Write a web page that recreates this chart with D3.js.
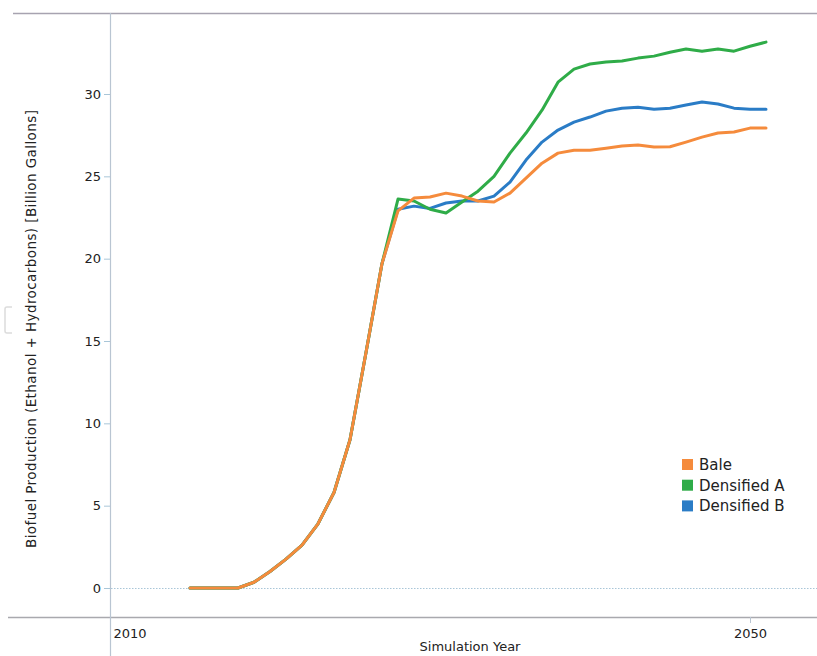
<!DOCTYPE html>
<html>
<head>
<meta charset="utf-8">
<script src="https://cdn.jsdelivr.net/npm/d3@7"></script>
<style>
  html, body { margin: 0; padding: 0; background: #fff; }
  svg { display: block; }
  text { font-family: "DejaVu Sans", Verdana, sans-serif; }
</style>
</head>
<body>
<svg id="chart" width="817" height="656"></svg>
<script>
// Simulation years (one point per year)
const years = [2015, 2016, 2017, 2018, 2019, 2020, 2021, 2022, 2023, 2024,
  2025, 2026, 2027, 2028, 2029, 2030, 2031, 2032, 2033, 2034, 2035, 2036,
  2037, 2038, 2039, 2040, 2041, 2042, 2043, 2044, 2045, 2046, 2047, 2048,
  2049, 2050, 2051];

// Biofuel production, billion gallons
const bale = [0, 0, 0, 0, 0.35, 1.0, 1.75, 2.6, 3.9, 5.8, 9.0, 14.3, 19.7,
  22.9, 23.68, 23.74, 23.98, 23.8, 23.5, 23.44, 23.98, 24.89, 25.8, 26.41,
  26.59, 26.59, 26.71, 26.84, 26.9, 26.78, 26.8, 27.08, 27.38, 27.63, 27.69,
  27.93, 27.93];
const densifiedA = [0, 0, 0, 0, 0.35, 1.0, 1.75, 2.6, 3.9, 5.8, 9.0, 14.3, 19.7,
  23.62, 23.5, 23.0, 22.77, 23.44, 24.1, 25.0, 26.41, 27.63, 29.02, 30.72,
  31.51, 31.82, 31.94, 32.0, 32.18, 32.3, 32.54, 32.73, 32.6, 32.73, 32.6,
  32.9, 33.15];
const densifiedB = [0, 0, 0, 0, 0.35, 1.0, 1.75, 2.6, 3.9, 5.8, 9.0, 14.3, 19.7,
  23.0, 23.19, 23.05, 23.38, 23.5, 23.5, 23.8, 24.65, 25.99, 27.08, 27.81,
  28.29, 28.6, 28.96, 29.14, 29.2, 29.08, 29.14, 29.33, 29.51, 29.39, 29.14,
  29.08, 29.08];

const seriesNames = ["Bale", "Densified A", "Densified B"];
const seriesColors = ["#f58b3c", "#2fac48", "#2a7cc6"];
const xTicks = [2010, 2050];
const yTicks = [0, 5, 10, 15, 20, 25, 30];

const series = [
  { name: seriesNames[0], values: bale, color: seriesColors[0] },
  { name: seriesNames[1], values: densifiedA, color: seriesColors[1] },
  { name: seriesNames[2], values: densifiedB, color: seriesColors[2] }
];

const svg = d3.select("#chart");
const W = 817, H = 656;

const x = d3.scaleLinear().domain([2010, 2050]).range([110, 750]);
const y = d3.scaleLinear().domain([0, 30]).range([588, 94]);

// frame lines
svg.append("line").attr("x1", 13).attr("x2", W).attr("y1", 13.5).attr("y2", 13.5)
  .attr("stroke", "#a7a3b0").attr("stroke-width", 1.3);
svg.append("line").attr("x1", 8).attr("x2", W).attr("y1", 617.5).attr("y2", 617.5)
  .attr("stroke", "#a9a9ae").attr("stroke-width", 1.3);
svg.append("line").attr("x1", 110.5).attr("x2", 110.5).attr("y1", 13).attr("y2", H)
  .attr("stroke", "#b9c5d2").attr("stroke-width", 1.2);

// small bracket mark at the left edge
svg.append("path").attr("d", "M12,307 L7,307 Q5,307 5,309 L5,331 Q5,333 7,333 L12,333")
  .attr("fill", "none").attr("stroke", "#dcdcdc").attr("stroke-width", 1.5);

// zero baseline
svg.append("line").attr("x1", 111).attr("x2", W).attr("y1", y(0) + 0.5).attr("y2", y(0) + 0.5)
  .attr("stroke", "#a9c6d8").attr("stroke-width", 1.2).attr("stroke-dasharray", "1.5,1.5");

// y axis ticks and labels
const yAxis = svg.append("g").attr("transform", "translate(110,0)")
  .call(d3.axisLeft(y).tickValues(yTicks).tickSize(6).tickPadding(3).tickFormat(d3.format("d")));
yAxis.select(".domain").remove();
yAxis.selectAll(".tick line").attr("stroke", "#a9c6d8");
yAxis.selectAll(".tick text").attr("fill", "#222").style("font-size", "13px")
  .style("font-family", "'DejaVu Sans', Verdana, sans-serif");

// x axis ticks and labels
const xAxis = svg.append("g").attr("transform", "translate(0,617)")
  .call(d3.axisBottom(x).tickValues(xTicks).tickSize(6).tickPadding(6).tickFormat(d3.format("d")));
xAxis.select(".domain").remove();
xAxis.selectAll(".tick line").attr("stroke", "#b9c5d2");
xAxis.selectAll(".tick text").attr("fill", "#222").style("font-size", "13px")
  .style("font-family", "'DejaVu Sans', Verdana, sans-serif")
  .attr("text-anchor", d => d === 2010 ? "start" : "middle")
  .attr("dx", d => d === 2010 ? 3 : 0);

// axis titles
svg.append("text").attr("x", 470).attr("y", 651).attr("text-anchor", "middle")
  .attr("fill", "#222").style("font-size", "13px").text("Simulation Year");
svg.append("text").attr("transform", "translate(36,329) rotate(-90)")
  .attr("text-anchor", "middle").attr("fill", "#222").style("font-size", "13.5px")
  .attr("textLength", 438).attr("lengthAdjust", "spacing")
  .text("Biofuel Production (Ethanol + Hydrocarbons) [Billion Gallons]");

// series lines (Bale drawn last so it sits on top)
const line = d3.line().x((d, i) => x(years[i])).y(d => y(d));
const drawOrder = [series[2], series[1], series[0]];
svg.append("g").selectAll("path").data(drawOrder).join("path")
  .attr("d", d => line(d.values))
  .attr("fill", "none")
  .attr("stroke", d => d.color)
  .attr("stroke-width", 3)
  .attr("stroke-linejoin", "round")
  .attr("stroke-linecap", "round");

// legend
const legend = svg.append("g").attr("transform", "translate(682,459)");
const rows = legend.selectAll("g").data(series).join("g")
  .attr("transform", (d, i) => `translate(0,${i * 20.7})`);
rows.append("rect").attr("width", 11).attr("height", 11).attr("fill", d => d.color);
rows.append("text").attr("x", 17).attr("y", 11).attr("fill", "#222")
  .style("font-size", "15px").text(d => d.name);
</script>
</body>
</html>
